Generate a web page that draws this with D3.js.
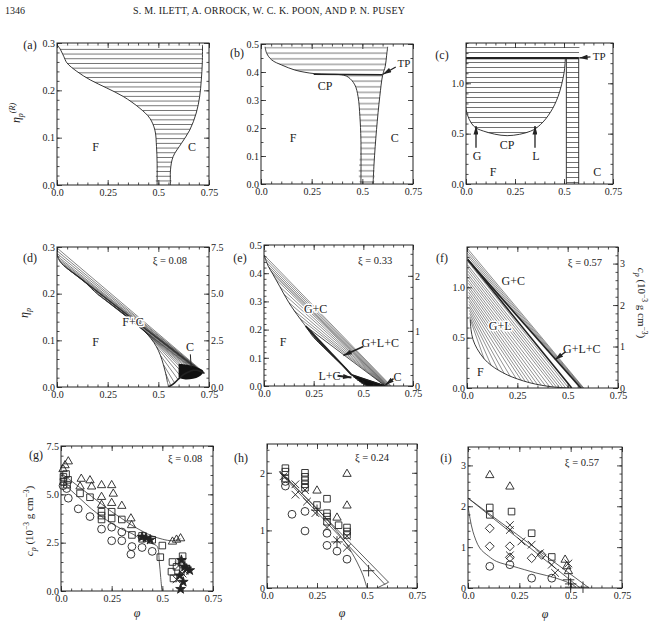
<!DOCTYPE html>
<html>
<head>
<meta charset="utf-8">
<script src="https://cdn.jsdelivr.net/npm/d3@7"></script>
<style>
  body { margin: 0; background: #fff; }
  svg { display: block; font-family: "Liberation Serif", "DejaVu Serif", serif; }
</style>
</head>
<body>
<svg id="fig" width="652" height="622"></svg>
<script>
// ---------- shared ticks ----------
const xTickVals = [0, 0.25, 0.5, 0.75];
const xTickLabels = ["0.0", "0.25", "0.5", "0.75"];

// ---------- (a) reservoir phase diagram, xi = 0.08 ----------
const aFluid = [[0, 0.296], [0.013, 0.289], [0.033, 0.272], [0.049, 0.258], [0.098, 0.24], [0.164, 0.222], [0.245, 0.205],
  [0.327, 0.187], [0.409, 0.162], [0.458, 0.141], [0.483, 0.116], [0.491, 0.081], [0.494, 0.046], [0.494, 0]];
const aCrystal = [[0.56, 0], [0.56, 0.032], [0.573, 0.06], [0.614, 0.088], [0.655, 0.116], [0.687, 0.152],
  [0.704, 0.187], [0.712, 0.222], [0.717, 0.258], [0.718, 0.296]];

// ---------- (b) xi = 0.33 ----------
const bFluid = [[0.02, 0.49], [0.028, 0.467], [0.053, 0.443], [0.102, 0.425], [0.167, 0.407], [0.217, 0.399], [0.266, 0.394],
  [0.33, 0.392], [0.397, 0.39], [0.43, 0.382], [0.463, 0.354], [0.479, 0.312], [0.488, 0.241], [0.493, 0.158], [0.493, 0]];
const bCrystal = [[0.553, 0], [0.558, 0.075], [0.57, 0.194], [0.586, 0.312], [0.6, 0.388], [0.613, 0.42], [0.62, 0.46], [0.625, 0.49]];
const bTriple = [[0.26, 0.392], [0.6, 0.39]];

// ---------- (c) xi = 0.57 ----------
const cDome = [[0, 1.25], [0, 0.74], [0.039, 0.575], [0.09, 0.525], [0.21, 0.48], [0.33, 0.525], [0.38, 0.59],
  [0.43, 0.71], [0.47, 0.87], [0.5, 1.1], [0.507, 1.25]];
const cStrip = [[0.512, 0], [0.512, 1.25], [0.575, 1.25], [0.575, 0]];
const cTop = [[0, 1.25], [0, 1.4], [0.58, 1.4], [0.575, 1.25]];
const cTriple = [[0, 1.25], [0.575, 1.25]];

// ---------- (d) system representation, xi = 0.08 ----------
const dFluidEnds = [[0, 0.298], [0, 0.292], [0.001, 0.286], [0.003, 0.28], [0.007, 0.275], [0.013, 0.27], [0.022, 0.265],
  [0.033, 0.26], [0.047, 0.255], [0.065, 0.249], [0.085, 0.243], [0.11, 0.235], [0.14, 0.224], [0.17, 0.211], [0.2, 0.199],
  [0.24, 0.186], [0.28, 0.173], [0.32, 0.16], [0.36, 0.146], [0.4, 0.132], [0.435, 0.118], [0.465, 0.103], [0.49, 0.087],
  [0.51, 0.068], [0.525, 0.048], [0.537, 0.028], [0.545, 0.01]];
const dCrystalEnds = [[0.728, 0.03], [0.724, 0.03], [0.721, 0.031], [0.718, 0.031], [0.716, 0.032], [0.714, 0.032], [0.712, 0.033],
  [0.71, 0.033], [0.707, 0.034], [0.704, 0.034], [0.7, 0.035], [0.696, 0.035], [0.692, 0.036], [0.688, 0.036], [0.683, 0.036],
  [0.678, 0.036], [0.672, 0.036], [0.665, 0.035], [0.657, 0.034], [0.648, 0.032], [0.638, 0.03], [0.626, 0.027], [0.612, 0.022],
  [0.597, 0.016], [0.58, 0.009], [0.562, 0.003], [0.55, 0]];
const dBlob = [[0.6, 0.05], [0.66, 0.046], [0.722, 0.034], [0.7, 0.022], [0.64, 0.016], [0.6, 0.02]];

// ---------- (e) xi = 0.33 ----------
const eGasBranch = [[0, 0.465], [0.022, 0.424], [0.045, 0.396], [0.08, 0.352], [0.125, 0.296], [0.18, 0.24], [0.21, 0.212]];
const eBinodalLow = [[0.21, 0.212], [0.25, 0.172], [0.3, 0.137], [0.35, 0.102], [0.4, 0.07], [0.44, 0.04], [0.48, 0.017], [0.52, 0]];
const eGCgas = [[0, 0.465], [0.006, 0.452], [0.013, 0.438], [0.022, 0.424], [0.033, 0.41], [0.045, 0.396], [0.06, 0.378],
  [0.08, 0.352], [0.1, 0.326], [0.125, 0.296], [0.15, 0.268], [0.18, 0.24]];
const eGCcrys = [[0.64, 0], [0.636, 0], [0.632, 0], [0.628, 0], [0.625, 0], [0.622, 0], [0.62, 0], [0.618, 0], [0.616, 0],
  [0.614, 0], [0.612, 0], [0.611, 0]];
const eGLgas = [[0.22, 0.2], [0.235, 0.187], [0.25, 0.174], [0.268, 0.16], [0.288, 0.146]];
const eGLliq = [[0.435, 0.045], [0.422, 0.056], [0.408, 0.066], [0.392, 0.077], [0.372, 0.09]];
const eLCliq = [[0.44, 0.04], [0.45, 0.034], [0.46, 0.028], [0.47, 0.022], [0.48, 0.017], [0.49, 0.012], [0.5, 0.008], [0.51, 0.004], [0.52, 0]];
const eLCcrys = [[0.61, 0], [0.605, 0], [0.6, 0], [0.595, 0], [0.59, 0], [0.584, 0], [0.577, 0], [0.568, 0], [0.555, 0]];
const eTriangle = [[0.21, 0.212], [0.44, 0.04], [0.61, 0]];

// ---------- (f) xi = 0.57 ----------
const fGCgas = [[0, 1.39], [0, 1.365], [0, 1.34], [0.001, 1.315], [0.002, 1.29]];
const fGCcrys = [[0.58, 0], [0.577, 0], [0.574, 0], [0.571, 0], [0.568, 0]];
const fTriangle = [[0.003, 1.275], [0.52, 0], [0.565, 0]];
const fGLgas = [[0.004, 1.255], [0.004, 1.22], [0.005, 1.19], [0.005, 1.16], [0.005, 1.13], [0.006, 1.1], [0.006, 1.07],
  [0.007, 1.04], [0.007, 1.01], [0.008, 0.98], [0.008, 0.95], [0.009, 0.92], [0.009, 0.89], [0.01, 0.86], [0.01, 0.83],
  [0.011, 0.8], [0.012, 0.77], [0.013, 0.74], [0.014, 0.71], [0.016, 0.68]];
const fGLliq = [[0.505, 0], [0.49, 0.001], [0.475, 0.003], [0.46, 0.005], [0.445, 0.007], [0.43, 0.01], [0.41, 0.014],
  [0.39, 0.02], [0.37, 0.027], [0.35, 0.035], [0.33, 0.043], [0.31, 0.053], [0.29, 0.064], [0.27, 0.076], [0.245, 0.092],
  [0.215, 0.115], [0.185, 0.143], [0.155, 0.178], [0.12, 0.225], [0.085, 0.29]];
const fBinodal = [[0.016, 0.68], [0.02, 0.58], [0.03, 0.48], [0.05, 0.39], [0.085, 0.29], [0.12, 0.225], [0.155, 0.178],
  [0.2, 0.13], [0.25, 0.09], [0.31, 0.053], [0.37, 0.027], [0.43, 0.01], [0.49, 0.001], [0.52, 0]];

// ---------- (g) measured cp vs phi, xi = 0.08 ----------
const gCircle = [[0.01, 5.45], [0.028, 5.3], [0.036, 4.8], [0.085, 4.25], [0.143, 3.85], [0.2, 3.2], [0.25, 3.3], [0.25, 2.6],
  [0.3, 2.6], [0.3, 3.05], [0.345, 1.9], [0.35, 2.3], [0.4, 2.25], [0.45, 2.05]];
const gSquare = [[0.012, 5.9], [0.025, 6.05], [0.012, 5.65], [0.03, 5.5], [0.035, 5.75], [0.094, 5.05], [0.143, 4.85], [0.2, 4.1],
  [0.2, 3.9], [0.2, 3.7], [0.25, 4.1], [0.25, 3.75], [0.3, 3.7], [0.35, 2.9], [0.4, 2.7], [0.4, 2.85], [0.45, 2.65], [0.5, 2.35],
  [0.49, 1.75], [0.55, 1.5], [0.545, 1.0], [0.57, 1.25], [0.595, 1.5], [0.555, 0.65], [0.6, 1.8]];
const gTriangle = [[0.02, 6.5], [0.036, 6.7], [0.01, 6.3], [0.1, 5.8], [0.143, 5.72], [0.094, 5.4], [0.151, 5.4], [0.2, 5.47],
  [0.25, 5.47], [0.258, 5.03], [0.2, 4.86], [0.2, 4.45], [0.25, 4.55], [0.3, 4.4], [0.345, 3.75], [0.348, 3.4], [0.55, 2.55],
  [0.57, 2.65], [0.59, 2.72]];
const gStar = [[0.594, 1.6], [0.61, 1.25], [0.635, 1.07], [0.586, 0.8], [0.603, 0.47], [0.59, 0.1], [0.62, 1.15],
  [0.4, 2.8], [0.42, 2.75], [0.44, 2.65]];
const gTimes = [[0.58, 1.3], [0.6, 0.9], [0.57, 0.6], [0.61, 1.05]];
const gLineUpper = [[0, 6.1], [0.05, 5.7], [0.1, 5.3], [0.15, 4.9], [0.2, 4.5], [0.25, 4.1], [0.3, 3.75], [0.35, 3.4],
  [0.4, 3.1], [0.45, 2.85], [0.5, 2.68], [0.55, 2.6], [0.59, 2.7]];
const gLineLower = [[0, 5.7], [0.05, 5.2], [0.094, 4.78], [0.15, 4.25], [0.2, 3.85], [0.25, 3.5], [0.3, 3.2], [0.35, 2.97],
  [0.406, 2.62], [0.45, 2.45], [0.475, 2.3], [0.485, 1.5], [0.492, 0.7], [0.498, 0]];

// ---------- (h) xi = 0.24 ----------
const hSquare = [[0.092, 2.08], [0.092, 2.02], [0.092, 1.9], [0.19, 2.0], [0.19, 1.93], [0.19, 1.87], [0.19, 1.8], [0.19, 1.74],
  [0.25, 1.44], [0.3, 1.55], [0.3, 1.3], [0.3, 1.24], [0.3, 1.15], [0.358, 1.09], [0.4, 1.05], [0.4, 0.98], [0.4, 0.92]];
const hCircle = [[0.092, 1.77], [0.125, 1.28], [0.19, 1.33], [0.19, 0.99], [0.3, 0.95], [0.3, 0.74], [0.35, 0.64], [0.4, 0.5], [0.092, 1.85]];
const hTriangle = [[0.4, 1.98], [0.25, 1.69], [0.4, 1.43], [0.35, 1.22]];
const hTimes = [[0.083, 1.94], [0.142, 1.8], [0.142, 1.62], [0.2, 1.5], [0.242, 1.3], [0.35, 0.83], [0.4, 0.7], [0.3, 1.05],
  [0.19, 1.7], [0.4, 0.9]];
const hPlus = [[0.508, 0.3], [0.35, 0.8], [0.25, 1.35]];
const hCurve = [[0.06, 2.03], [0.15, 1.72], [0.25, 1.38], [0.35, 0.98], [0.4, 0.75], [0.45, 0.45], [0.48, 0.22], [0.5, 0]];
const hLineA = [[0.065, 2.03], [0.608, 0.1], [0.55, 0]];
const hLineB = [[0.065, 2.0], [0.59, 0.06]];

// ---------- (i) xi = 0.57 ----------
const iTriangle = [[0.106, 2.76], [0.204, 2.48], [0.473, 0.69], [0.481, 0.53], [0.489, 0.41]];
const iSquare = [[0.106, 1.97], [0.106, 1.79], [0.212, 1.87], [0.31, 1.34], [0.408, 0.76]];
const iDiamond = [[0.106, 1.46], [0.106, 1.02], [0.204, 1.02], [0.204, 0.75], [0.31, 0.73], [0.359, 0.81]];
const iCircle = [[0.106, 0.53], [0.204, 0.57], [0.31, 0.24], [0.408, 0.24]];
const iTimes = [[0.204, 1.54], [0.204, 1.42], [0.26, 1.14], [0.31, 1.06], [0.35, 0.85], [0.408, 0.57], [0.424, 0.37], [0.489, 0.6], [0.204, 0.8]];
const iPlus = [[0.5, 0.1], [0.5, 0.02], [0.56, 0.02], [0.49, 0.2]];
const iLineA = [[0, 2.2], [0.546, 0]];
const iLineB = [[0, 2.2], [0.59, 0]];
const iCurve = [[0, 2.0], [0.01, 1.7], [0.024, 1.38], [0.057, 0.98], [0.1, 0.78], [0.139, 0.65], [0.22, 0.53], [0.33, 0.37],
  [0.43, 0.24], [0.51, 0.08], [0.53, 0]];

// ---------- drawing ----------
const INK = "#222";
const svg = d3.select("#fig");
const defs = svg.append("defs");
let clipN = 0;

function hatch(id, gap) {
  const p = defs.append("pattern").attr("id", id).attr("patternUnits", "userSpaceOnUse")
    .attr("width", 20).attr("height", gap);
  p.append("line").attr("x1", 0).attr("x2", 20).attr("y1", gap / 2).attr("y2", gap / 2)
    .attr("stroke", "#333").attr("stroke-width", 0.7);
}
hatch("hA", 4.7);
hatch("hB", 5.6);
hatch("hC", 5);

defs.append("marker").attr("id", "arr").attr("viewBox", "0 0 10 6").attr("refX", 10).attr("refY", 3)
  .attr("markerWidth", 10).attr("markerHeight", 5).attr("markerUnits", "userSpaceOnUse").attr("orient", "auto")
  .append("path").attr("d", "M0,0L10,3L0,6Z").attr("fill", INK);

function makePanel(box, yMax) {
  const [x0, x1, y0, y1] = box;
  const x = d3.scaleLinear().domain([0, 0.75]).range([x0, x1]);
  const y = d3.scaleLinear().domain([0, yMax]).range([y1, y0]);
  const id = "clip" + (clipN++);
  defs.append("clipPath").attr("id", id).append("rect")
    .attr("x", x0).attr("y", y0).attr("width", x1 - x0).attr("height", y1 - y0);
  const g = svg.append("g");
  const plot = g.append("g").attr("clip-path", `url(#${id})`);
  const line = d3.line().x(d => x(d[0])).y(d => y(d[1]));
  const curve = d3.line().x(d => x(d[0])).y(d => y(d[1])).curve(d3.curveCatmullRom.alpha(0.5));
  return { g, plot, x, y, box, line, curve };
}

function frame(p, yTicks, yFmt, yMinorN, right) {
  const [x0, x1, y0, y1] = p.box;
  const ax = p.g.append("g").attr("color", INK);
  const put = (axis, tx, ty) => ax.append("g").attr("transform", `translate(${tx},${ty})`)
    .call(axis.tickSizeOuter(0))
    .call(s => {
      s.select(".domain").remove();
      s.attr("font-family", null).attr("font-size", 10);
      s.selectAll("line").attr("stroke-width", 0.8);
    });
  put(d3.axisBottom(p.x).ticks(15).tickSize(-2.5).tickFormat(""), 0, y1);
  put(d3.axisBottom(p.x).tickValues(xTickVals).tickSize(-5).tickPadding(4).tickFormat((d, i) => xTickLabels[i]), 0, y1);
  put(d3.axisTop(p.x).ticks(15).tickSize(-2.5).tickFormat(""), 0, y0);
  put(d3.axisTop(p.x).tickValues(xTickVals).tickSize(-5).tickFormat(""), 0, y0);
  put(d3.axisLeft(p.y).ticks(yMinorN).tickSize(-2.5).tickFormat(""), x0, 0);
  put(d3.axisLeft(p.y).tickValues(yTicks).tickSize(-5).tickPadding(2).tickFormat(yFmt), x0, 0);
  if (right) {
    const r = d3.scaleLinear().domain([0, right.max]).range([y1, y0]);
    put(d3.axisRight(r).ticks(right.minor).tickSize(-2.5).tickFormat(""), x1, 0);
    put(d3.axisRight(r).tickValues(right.ticks).tickSize(-5).tickPadding(2).tickFormat(right.fmt), x1, 0);
  } else {
    put(d3.axisRight(p.y).ticks(yMinorN).tickSize(-2.5).tickFormat(""), x1, 0);
    put(d3.axisRight(p.y).tickValues(yTicks).tickSize(-5).tickFormat(""), x1, 0);
  }
  p.g.append("rect").attr("x", x0).attr("y", y0).attr("width", x1 - x0).attr("height", y1 - y0)
    .attr("fill", "none").attr("stroke", INK).attr("stroke-width", 1);
}

function txt(p, s, xv, yv, o = {}) {
  return p.g.append("text").attr("x", p.x(xv)).attr("y", p.y(yv)).attr("dy", "0.35em")
    .attr("text-anchor", o.anchor || "middle").attr("font-size", o.size || 12).attr("fill", INK)
    .attr("stroke", o.halo ? "#fff" : null).attr("stroke-width", o.halo ? 3 : null)
    .attr("paint-order", "stroke").text(s);
}

function arrow(p, a, b, w) {
  p.g.append("line").attr("x1", p.x(a[0])).attr("y1", p.y(a[1])).attr("x2", p.x(b[0])).attr("y2", p.y(b[1]))
    .attr("stroke", INK).attr("stroke-width", w || 1).attr("marker-end", "url(#arr)");
}

function ties(p, from, to, w, col) {
  p.plot.append("g").selectAll("line").data(from).join("line")
    .attr("x1", d => p.x(d[0])).attr("y1", d => p.y(d[1]))
    .attr("x2", (d, i) => p.x(to[i][0])).attr("y2", (d, i) => p.y(to[i][1]))
    .attr("stroke", col || "#333").attr("stroke-width", w || 0.6);
}

function stroke(p, data, gen, w, col) {
  p.plot.append("path").attr("d", gen(data)).attr("fill", "none")
    .attr("stroke", col || INK).attr("stroke-width", w || 0.9);
}

function fillRegion(p, data, fill, gen) {
  p.plot.append("path").attr("d", (gen || p.line)(data) + "Z").attr("fill", fill).attr("stroke", "none");
}

const symSquare = d3.symbolSquare2 || d3.symbolSquare;
const symTri = d3.symbolTriangle2 || d3.symbolTriangle;
const symDia = d3.symbolDiamond2 || d3.symbolDiamond;
const symTimes = d3.symbolTimes || d3.symbolX || d3.symbolCross;
const symPlus = d3.symbolPlus || d3.symbolCross;

function scatter(p, data, type, size, filled) {
  const sym = d3.symbol().type(type).size(size);
  p.g.append("g").selectAll("path").data(data).join("path")
    .attr("transform", d => `translate(${p.x(d[0])},${p.y(d[1])})`).attr("d", sym)
    .attr("fill", filled ? INK : "none").attr("stroke", INK).attr("stroke-width", 0.9);
}

function plainText(x, y, s, size, o = {}) {
  return svg.append("text").attr("x", x).attr("y", y).attr("font-size", size).attr("fill", INK)
    .attr("text-anchor", o.anchor || "middle").attr("font-style", o.italic ? "italic" : null).text(s);
}

function rich(x, y, rot, parts, size) {
  const t = svg.append("text").attr("transform", `translate(${x},${y}) rotate(${rot})`)
    .attr("text-anchor", "middle").attr("font-size", size).attr("fill", INK);
  parts.forEach(([s, dy, sz, it]) => t.append("tspan").attr("dy", dy).attr("font-size", sz)
    .attr("font-style", it ? "italic" : null).text(s));
  return t;
}

// header
plainText(5, 14, "1346", 10, { anchor: "start" });
plainText(269, 14, "S. M. ILETT, A. ORROCK, W. C. K. POON, AND P. N. PUSEY", 10).attr("textLength", 272);

const f1 = d3.format(".1f"), f0 = d3.format("d");

// ---- (a)  (crystal boundary already runs bottom -> top, so the outline closes without reversing)
const pa = makePanel([57, 209, 43, 185], 0.3);
fillRegion(pa, aFluid.concat(aCrystal), "url(#hA)", pa.curve);
stroke(pa, aFluid, pa.curve);
stroke(pa, aCrystal, pa.curve);
frame(pa, [0, 0.1, 0.2, 0.3], f1, 15);
txt(pa, "F", 0.19, 0.08);
txt(pa, "C", 0.666, 0.08);

// ---- (b)
const pb = makePanel([261, 413, 44, 184], 0.5);
fillRegion(pb, bFluid.concat(bCrystal), "url(#hB)", pb.curve);
stroke(pb, bFluid, pb.curve);
stroke(pb, bCrystal, pb.curve);
stroke(pb, bTriple, pb.line, 1.4);
frame(pb, [0, 0.1, 0.2, 0.3, 0.4, 0.5], f1, 10);
txt(pb, "F", 0.158, 0.164);
txt(pb, "C", 0.66, 0.164);
txt(pb, "CP", 0.316, 0.352, { halo: true });
txt(pb, "TP", 0.705, 0.432, { size: 11 });
arrow(pb, [0.665, 0.418], [0.602, 0.392], 1.2);

// ---- (c)
const pc = makePanel([466, 613, 43, 184], 1.4);
fillRegion(pc, cTop, "url(#hC)");
fillRegion(pc, cStrip, "url(#hC)");
fillRegion(pc, cDome, "url(#hC)", pc.curve);
stroke(pc, cDome, pc.curve);
stroke(pc, cStrip, pc.line);
stroke(pc, cTriple, pc.line, 2.2);
frame(pc, [0, 0.5, 1.0], f1, 14);
txt(pc, "F", 0.138, 0.12);
txt(pc, "C", 0.67, 0.12);
txt(pc, "CP", 0.21, 0.39);
txt(pc, "G", 0.056, 0.28);
txt(pc, "L", 0.357, 0.28);
arrow(pc, [0.051, 0.36], [0.051, 0.575], 1.3);
arrow(pc, [0.352, 0.36], [0.352, 0.575], 1.3);
txt(pc, "TP", 0.68, 1.27, { size: 11 });
arrow(pc, [0.635, 1.262], [0.578, 1.252], 1.2);

// ---- (d)
const pd = makePanel([57, 209, 247, 387], 0.3);
ties(pd, dFluidEnds, dCrystalEnds, 0.6);
fillRegion(pd, dBlob, "#111", pd.curve);
stroke(pd, dFluidEnds, pd.curve, 0.9);
stroke(pd, dCrystalEnds, pd.curve, 1.6);
frame(pd, [0, 0.1, 0.2, 0.3], f1, 15, { max: 7.5, ticks: [0, 2.5, 5, 7.5], fmt: f1, minor: 15 });
txt(pd, "F", 0.19, 0.096);
txt(pd, "F+C", 0.375, 0.14, { halo: true });
txt(pd, "C", 0.656, 0.086, { halo: true });
pd.g.append("line").attr("x1", pd.x(0.658)).attr("y1", pd.y(0.07)).attr("x2", pd.x(0.662)).attr("y2", pd.y(0.042))
  .attr("stroke", INK).attr("stroke-width", 1);
txt(pd, "ξ = 0.08", 0.557, 0.272, { size: 10.5 });

// ---- (e)
const pe = makePanel([264, 413, 245, 386], 0.5);
ties(pe, eGCgas, eGCcrys, 0.6, "#444");
ties(pe, eGLgas, eGLliq, 0.9);
ties(pe, eLCliq, eLCcrys, 1.6, "#111");
stroke(pe, eGasBranch, pe.curve, 0.9);
stroke(pe, eBinodalLow, pe.curve, 0.9);
stroke(pe, eTriangle.concat([eTriangle[0]]), pe.line, 0.8);
stroke(pe, [eTriangle[0], eTriangle[1]], pe.line, 1.8);
frame(pe, [0, 0.1, 0.2, 0.3, 0.4, 0.5], f1, 25, { max: 2.56, ticks: [0, 1, 2], fmt: f0, minor: 13 });
txt(pe, "F", 0.096, 0.156);
txt(pe, "G+C", 0.26, 0.272, { halo: true });
txt(pe, "G+L+C", 0.585, 0.152, { halo: true });
arrow(pe, [0.5, 0.14], [0.4, 0.108], 1.6);
txt(pe, "L+C", 0.33, 0.036, { halo: true });
arrow(pe, [0.37, 0.036], [0.44, 0.03], 2);
txt(pe, "C", 0.672, 0.034, { halo: true });
arrow(pe, [0.652, 0.026], [0.612, 0.004], 1.6);
txt(pe, "ξ = 0.33", 0.559, 0.447, { size: 10.5 });

// ---- (f)
const pf = makePanel([467, 618, 247, 388], 1.4);
ties(pf, fGCgas, fGCcrys, 0.6, "#444");
ties(pf, fGLgas, fGLliq, 0.55);
stroke(pf, fBinodal, pf.curve, 0.9);
stroke(pf, [fTriangle[0], fTriangle[1]], pf.line, 1.6);
stroke(pf, [fTriangle[0], fTriangle[2]], pf.line, 1.6);
frame(pf, [0, 0.5, 1.0], f1, 14, { max: 3.4, ticks: [0, 1, 2, 3], fmt: f0, minor: 17 });
txt(pf, "G+C", 0.23, 1.06, { halo: true });
txt(pf, "G+L", 0.165, 0.62, { halo: true });
txt(pf, "F", 0.066, 0.16);
txt(pf, "G+L+C", 0.57, 0.39, { halo: true });
arrow(pf, [0.49, 0.36], [0.437, 0.28], 1.4);
txt(pf, "ξ = 0.57", 0.586, 1.25, { size: 10.5 });

// ---- (g)
const pg = makePanel([61, 213, 446, 591], 7.5);
stroke(pg, gLineUpper, pg.curve, 0.8, "#333");
stroke(pg, gLineLower, pg.curve, 0.8, "#333");
scatter(pg, gCircle, d3.symbolCircle, 48);
scatter(pg, gSquare, symSquare, 55);
scatter(pg, gTriangle, symTri, 50);
scatter(pg, gTimes, symTimes, 40);
scatter(pg, gStar, d3.symbolStar, 30, true);
frame(pg, [0, 2.5, 5, 7.5], f1, 15);
txt(pg, "ξ = 0.08", 0.612, 6.88, { size: 10.5 });

// ---- (h)
const ph = makePanel([267, 417, 444, 588], 2.5);
stroke(ph, hCurve, ph.curve, 0.8, "#333");
stroke(ph, hLineA, ph.line, 0.8, "#333");
stroke(ph, hLineB, ph.line, 0.8, "#333");
scatter(ph, hCircle, d3.symbolCircle, 48);
scatter(ph, hSquare, symSquare, 55);
scatter(ph, hTriangle, symTri, 50);
scatter(ph, hTimes, symTimes, 40);
scatter(ph, hPlus, symPlus, 45);
frame(ph, [0, 1, 2], f0, 12);
txt(ph, "ξ = 0.24", 0.525, 2.26, { size: 10.5 });

// ---- (i)
const pi = makePanel([468, 622, 447, 588], 3.45);
stroke(pi, iCurve, pi.curve, 0.8, "#333");
stroke(pi, iLineA, pi.line, 0.8, "#333");
stroke(pi, iLineB, pi.line, 0.8, "#333");
scatter(pi, iCircle, d3.symbolCircle, 48);
scatter(pi, iSquare, symSquare, 55);
scatter(pi, iTriangle, symTri, 50);
scatter(pi, iDiamond, symDia, 50);
scatter(pi, iTimes, symTimes, 40);
scatter(pi, iPlus, symPlus, 45);
frame(pi, [0, 1, 2, 3], f0, 17);
txt(pi, "ξ = 0.57", 0.555, 3.08, { size: 10.5 });

// panel letters
[["(a)", 30, 49], ["(b)", 237, 57], ["(c)", 442, 59], ["(d)", 30, 262], ["(e)", 240, 262], ["(f)", 442, 262],
 ["(g)", 36, 459], ["(h)", 241, 462], ["(i)", 446, 462]].forEach(([s, x, y]) => plainText(x, y, s, 12));

// axis titles
rich(20, 113, -90, [["η", 0, 12, true], ["p", 3, 8, true], ["(R)", -8, 8, true]], 12);
rich(28, 313, -90, [["η", 0, 12, true], ["p", 3, 8, true]], 12);
const cpParts = [["c", 0, 11, true], ["p", 3, 8, true], [" (10", -3, 11], ["−3", -4, 7.5], [" g cm", 4, 11], ["−3", -4, 7.5], [")", 4, 11]];
rich(33, 521, -90, cpParts, 11);
rich(638, 303, 90, cpParts, 11);
plainText(137, 617, "φ", 12, { italic: true });
plainText(342, 617, "φ", 12, { italic: true });
plainText(545, 618, "φ", 12, { italic: true });
</script>
</body>
</html>
